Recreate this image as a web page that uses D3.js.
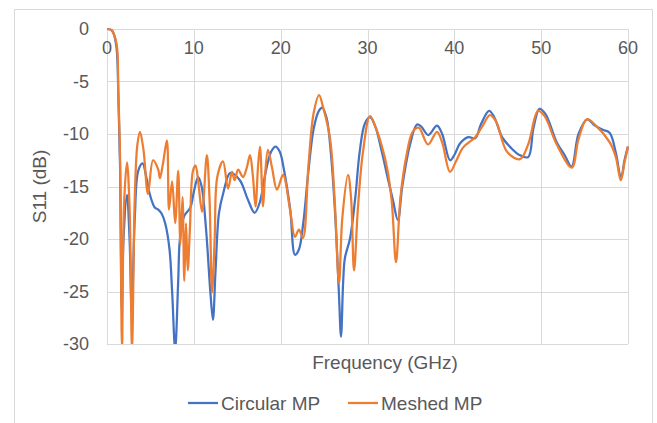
<!DOCTYPE html>
<html>
<head>
<meta charset="utf-8">
<script src="https://cdn.jsdelivr.net/npm/d3@7"></script>
<style>
  body { margin: 0; background: #fff; }
  svg { display: block; font-family: "Liberation Sans", Arial, sans-serif; }
</style>
</head>
<body>
<svg id="chart" width="657" height="423"></svg>
<script>
// S11 curves: [frequency GHz, S11 dB]
var circularMP = [
  [0,0],[0.5,-0.1],[0.75,-0.4],[1.1,-1.8],[1.3,-6],[1.5,-13],[1.7,-26.8],[1.9,-20],[2.3,-15.8],
  [2.6,-20],[2.85,-27],[3.2,-18],[3.6,-13.5],[4.1,-12.8],[4.5,-14],[4.95,-15.8],[5.5,-17],
  [5.9,-17.2],[6.3,-17.6],[6.7,-18.5],[7.2,-21],[7.5,-25],[7.85,-30.5],[8.2,-24],[8.4,-20],
  [8.9,-17.8],[9.6,-17],[10.0,-15.5],[10.5,-14.1],[10.9,-15],[11.4,-19],[11.9,-25],[12.2,-27.7],
  [12.5,-23],[12.9,-17.5],[13.4,-15.6],[14.2,-13.7],[15.3,-14.4],[16.2,-16.2],[17,-17.5],
  [17.6,-16.5],[18.3,-13.5],[18.9,-11.7],[19.4,-11.2],[19.9,-11.7],[20.4,-13.5],[21.1,-17.2],
  [21.65,-21.5],[22.1,-21],[22.6,-18.5],[23.2,-13.5],[23.8,-9.5],[24.4,-7.8],[24.8,-7.5],
  [25.3,-8.5],[25.8,-12],[26.3,-18],[26.7,-25],[26.95,-29.3],[27.2,-24],[27.4,-21.8],[28,-19.9],
  [28.6,-16],[29.1,-11.7],[29.7,-9],[30.3,-8.4],[30.9,-9.3],[31.6,-11.5],[32.25,-13.9],
  [32.9,-16.2],[33.5,-18.2],[34,-15],[34.9,-11],[35.7,-9.1],[36.2,-9.3],[37,-10.1],[38,-9.2],
  [38.6,-10],[39.5,-12.5],[40.0,-12],[40.65,-10.9],[41.6,-10.3],[42.4,-10.4],[43.1,-9],[44,-7.8],
  [44.6,-8.4],[45.5,-10.3],[46.5,-11.3],[47.5,-12],[48.5,-12.2],[49.1,-9.5],[49.8,-7.6],
  [50.5,-8.1],[51.8,-10.8],[52.7,-12],[53.5,-13.1],[54.3,-10],[55.3,-8.6],[56.2,-9.2],
  [57.1,-9.6],[57.9,-9.9],[58.6,-11.8],[59.2,-14.2],[59.6,-12.5],[60,-11.2]
];

var meshedMP = [
  [0,0],[0.5,-0.1],[0.75,-0.4],[1.15,-1.7],[1.3,-6],[1.5,-12],[1.73,-30.5],[1.95,-17],[2.3,-12.7],
  [2.6,-17],[2.88,-30.5],[3.2,-16],[3.5,-11],[3.8,-9.8],[4.2,-11.5],[4.72,-15.7],[5.3,-12.5],
  [5.9,-13.4],[6.1,-14.2],[6.45,-12.8],[6.9,-10.6],[7.14,-17.2],[7.5,-14.5],[7.85,-18.5],
  [8.2,-13.5],[8.45,-20.5],[8.7,-16],[8.9,-24],[9.1,-18.5],[9.3,-23],[9.55,-19],[9.9,-13.5],
  [10.2,-13],[10.5,-14.5],[10.95,-17.4],[11.5,-12],[11.8,-16],[12.1,-25.1],[12.4,-20],
  [12.7,-14.1],[13.36,-12.6],[13.94,-15.2],[14.4,-13.6],[14.7,-14.4],[15.1,-13.4],[15.66,-14.1],
  [16.1,-13.2],[16.47,-12],[16.8,-14],[17.1,-16.9],[17.4,-13],[17.62,-11.2],[17.97,-16.9],
  [18.2,-14],[18.54,-11.5],[19,-13.2],[19.58,-15.3],[20.27,-13.9],[21.08,-17.2],[21.65,-19.8],
  [22.1,-19.1],[22.57,-19.9],[23.2,-13],[23.8,-8],[24.42,-6.3],[24.9,-7.5],[25.68,-10.4],
  [26.2,-16],[26.72,-24.2],[27.1,-18],[27.76,-13.9],[28.1,-16],[28.45,-23],[28.9,-17],
  [29.48,-11.7],[30.29,-8.3],[31,-9.5],[31.6,-11],[32.25,-13.2],[32.8,-16.5],[33.28,-22.2],
  [33.8,-16],[34.5,-12],[35.2,-9.8],[35.9,-9.4],[36.97,-11],[38,-9.8],[38.6,-10.8],[39.5,-13.6],
  [40.2,-12.6],[41,-11.3],[42.4,-10.3],[43.2,-9.3],[44.1,-8.2],[44.8,-8.8],[46.07,-11.7],
  [47.56,-12.4],[48.5,-11],[49.64,-7.8],[50.4,-8.3],[51.8,-11],[53.53,-13.2],[54.3,-10.5],
  [55.26,-8.6],[56.3,-9.2],[57.9,-10.8],[58.6,-12.2],[59.17,-14.4],[59.6,-12.7],[60,-11.2]
];

var xTicks = [0, 10, 20, 30, 40, 50, 60];
var yTicks = [0, -5, -10, -15, -20, -25, -30];
var seriesNames = ["Circular MP", "Meshed MP"];
var seriesColors = ["#4472c4", "#ed7d31"];

var svg = d3.select("#chart");
var plotL = 107, plotR = 628, plotT = 29, plotB = 344;

// outer chart frame
svg.append("rect")
  .attr("x", 14.5).attr("y", 9.5)
  .attr("width", 638).attr("height", 430)
  .attr("fill", "#fff").attr("stroke", "#d9d9d9");

var x = d3.scaleLinear().domain([0, 60]).range([plotL, plotR]);
var y = d3.scaleLinear().domain([-30, 0]).range([plotB, plotT]);

// grid
svg.append("g").selectAll("line").data(yTicks).enter().append("line")
  .attr("x1", plotL).attr("x2", plotR)
  .attr("y1", function(d) { return Math.round(y(d)) + 0.5; })
  .attr("y2", function(d) { return Math.round(y(d)) + 0.5; })
  .attr("stroke", "#d9d9d9");
svg.append("g").selectAll("line").data(xTicks).enter().append("line")
  .attr("y1", plotT).attr("y2", plotB)
  .attr("x1", function(d) { return Math.round(x(d)) + 0.5; })
  .attr("x2", function(d) { return Math.round(x(d)) + 0.5; })
  .attr("stroke", "#d9d9d9");

// tick labels
svg.append("g").selectAll("text").data(yTicks).enter().append("text")
  .attr("x", 89).attr("y", function(d) { return y(d) + 6; })
  .attr("text-anchor", "end").attr("font-size", 18).attr("fill", "#595959")
  .text(function(d) { return d; });
svg.append("g").selectAll("text").data(xTicks).enter().append("text")
  .attr("x", function(d) { return x(d); }).attr("y", 54)
  .attr("text-anchor", "middle").attr("font-size", 18).attr("fill", "#595959")
  .text(function(d) { return d; });

// axis titles
svg.append("text")
  .attr("transform", "translate(46," + ((plotT + plotB) / 2) + ") rotate(-90)")
  .attr("text-anchor", "middle").attr("font-size", 19).attr("fill", "#595959")
  .text("S11 (dB)");
svg.append("text")
  .attr("x", 385).attr("y", 369)
  .attr("text-anchor", "middle").attr("font-size", 19).attr("fill", "#595959")
  .text("Frequency (GHz)");

// lines
svg.append("clipPath").attr("id", "plot")
  .append("rect").attr("x", plotL - 2).attr("y", plotT - 2)
  .attr("width", plotR - plotL + 4).attr("height", plotB - plotT + 2);

var line = d3.line()
  .x(function(d) { return x(d[0]); })
  .y(function(d) { return y(d[1]); })
  .curve(d3.curveCatmullRom.alpha(0.5));

var g = svg.append("g").attr("clip-path", "url(#plot)");
[circularMP, meshedMP].forEach(function(s, i) {
  g.append("path").datum(s)
    .attr("d", line)
    .attr("fill", "none")
    .attr("stroke", seriesColors[i])
    .attr("stroke-width", 2.25)
    .attr("stroke-linejoin", "round");
});

// legend
var legendX = [188, 348];
var leg = svg.append("g").selectAll("g").data(seriesNames).enter().append("g")
  .attr("transform", function(d, i) { return "translate(" + legendX[i] + ",403)"; });
leg.append("line").attr("x1", 0).attr("x2", 30)
  .attr("stroke", function(d, i) { return seriesColors[i]; })
  .attr("stroke-width", 2.25);
leg.append("text").attr("x", 33).attr("y", 7)
  .attr("font-size", 19).attr("fill", "#595959")
  .text(function(d) { return d; });
</script>
</body>
</html>
